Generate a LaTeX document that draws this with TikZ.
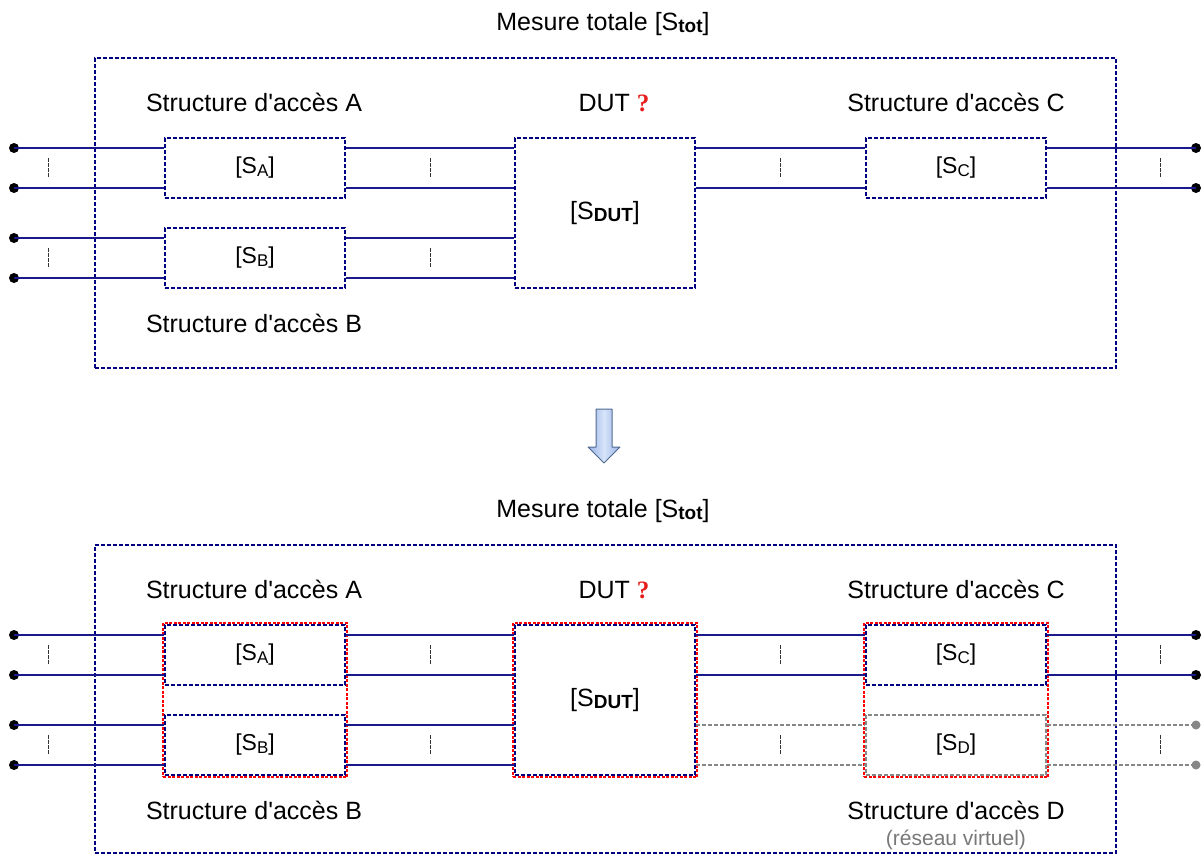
\documentclass[tikz,border=0pt]{standalone}
\usepackage{fontspec}
\setmainfont{Liberation Sans}
\newfontfamily\qfont{Liberation Serif}
\usetikzlibrary{calc}
\definecolor{navy}{RGB}{0,0,128}
\definecolor{wirec}{RGB}{25,25,140}
\definecolor{qred}{RGB}{230,30,30}
\definecolor{grayline}{RGB}{135,135,135}
\definecolor{vgray}{RGB}{120,120,120}
\definecolor{arredge}{RGB}{80,105,145}
\definecolor{arrlight}{RGB}{215,228,250}
\definecolor{arrdark}{RGB}{150,178,228}
\newcommand{\ap}{\textquotesingle}
\newcommand{\sbr}[1]{\raisebox{-2.5pt}{\fontsize{17}{18}\selectfont #1}}
\newcommand{\sbb}[1]{\raisebox{-2.5pt}{\fontsize{19}{19}\selectfont\bfseries #1}}
\newcommand{\qm}{{\qfont\bfseries\color{qred}?}}
\tikzset{
  sbox/.style={draw=navy, line width=2pt, dash pattern=on 4pt off 2pt,
    minimum width=180pt, minimum height=60pt, inner sep=0pt,
    font=\fontsize{23}{27}\selectfont},
  gbox/.style={sbox, draw=grayline},
  rbox/.style={draw=red, line width=1.8pt, dash pattern=on 3pt off 1.5pt,
    minimum width=184pt, minimum height=154pt, inner sep=0pt},
  obox/.style={draw=navy, line width=2pt, dash pattern=on 4pt off 2pt,
    minimum width=1021pt, inner sep=0pt},
  wire/.style={draw=wirec, line width=2.6pt},
  gwire/.style={draw=grayline, line width=2pt, dash pattern=on 4pt off 2pt},
  term/.style={circle, fill=black, inner sep=0pt, minimum size=10pt},
  gterm/.style={circle, fill=grayline, inner sep=0pt, minimum size=9pt},
  tickl/.style={draw=black!80, line width=1pt, dash pattern=on 3.5pt off 1.5pt},
  lbl/.style={font=\fontsize{25}{30}\selectfont, anchor=base, inner sep=0pt},
}
\newcommand{\tk}[2]{\draw[tickl] (#1,#2-10) -- (#1,#2+10);}
\begin{document}
\begin{tikzpicture}[x=1pt,y=-1pt]
\useasboundingbox (0,0) rectangle (1203,855);

% ================= TOP =================
\node[lbl] (title1) at (603,30) {Mesure totale [S\sbb{tot}]};
\node[obox, minimum height=310pt] (tot1) at (605.5,213) {};

\node[sbox] (SA) at (255,168) {[S\sbr{A}]};
\node[sbox] (SB) at (255,258) {[S\sbr{B}]};
\node[sbox, minimum height=150pt, font=\fontsize{25}{30}\selectfont] (DUT) at (605,213) {[S\sbb{DUT}]};
\node[sbox] (SC) at (956,168) {[S\sbr{C}]};

\node[lbl] (lA) at (254,111.5) {Structure d\ap acc\`es A};
\node[lbl] (lD) at (614,111.5) {DUT \qm};
\node[lbl] (lC) at (956,111.5) {Structure d\ap acc\`es C};
\node[lbl] (lB) at (254,332) {Structure d\ap acc\`es B};

\node[term] (a1) at (14,148) {};
\node[term] (a2) at (14,188) {};
\node[term] (b1) at (14,238) {};
\node[term] (b2) at (14,278) {};
\node[term] (c1) at (1196,148) {};
\node[term] (c2) at (1196,188) {};

\foreach \t in {a1,a2}{
  \draw[wire] (\t.center) -- (\t.center -| SA.west);
  \draw[wire] (\t.center -| SA.east) -- (\t.center -| DUT.west);
  \draw[wire] (\t.center -| DUT.east) -- (\t.center -| SC.west);
}
\foreach \t in {b1,b2}{
  \draw[wire] (\t.center) -- (\t.center -| SB.west);
  \draw[wire] (\t.center -| SB.east) -- (\t.center -| DUT.west);
}
\foreach \t in {c1,c2}{
  \draw[wire] (\t.center -| SC.east) -- (\t.center);
}
\tk{48}{168} \tk{48}{258} \tk{430}{168} \tk{430}{258} \tk{780}{168} \tk{1160}{168}

% ================= ARROW =================
\shade[left color=arrdark, right color=arrdark, middle color=arrlight, draw=arredge, line width=1pt, line join=round]
  (596,409) -- (612,409) -- (612,447) -- (620,447) -- (604,463) -- (588,447) -- (596,447) -- cycle;

% ================= BOTTOM =================
\node[lbl] (title2) at (603,517) {Mesure totale [S\sbb{tot}]};
\node[obox, minimum height=308pt] (tot2) at (605.5,699) {};

\node[sbox] (SA2) at (255,655) {[S\sbr{A}]};
\node[sbox] (SB2) at (255,745) {[S\sbr{B}]};
\node[sbox, minimum height=150pt, font=\fontsize{25}{30}\selectfont] (DUT2) at (605,700) {[S\sbb{DUT}]};
\node[sbox] (SC2) at (956,655) {[S\sbr{C}]};
\node[gbox] (SD2) at (956,745) {[S\sbr{D}]};

\node[rbox] (RAB) at (255,700) {};
\node[rbox] (RDUT) at (605,700) {};
\node[rbox] (RCD) at (956,700) {};

\node[lbl] (lA2) at (254,598.5) {Structure d\ap acc\`es A};
\node[lbl] (lD2) at (614,598.5) {DUT \qm};
\node[lbl] (lC2) at (956,598.5) {Structure d\ap acc\`es C};
\node[lbl] (lB2) at (254,819) {Structure d\ap acc\`es B};
\node[lbl] (lDD2) at (956,819) {Structure d\ap acc\`es D};
\node[lbl, font=\fontsize{21}{25}\selectfont, text=vgray] (virt) at (956,845) {(r\'eseau virtuel)};

\node[term] (a3) at (14,635) {};
\node[term] (a4) at (14,675) {};
\node[term] (b3) at (14,725) {};
\node[term] (b4) at (14,765) {};
\node[term] (c3) at (1196,635) {};
\node[term] (c4) at (1196,675) {};
\node[gterm] (d3) at (1196,725) {};
\node[gterm] (d4) at (1196,765) {};

\foreach \t in {a3,a4}{
  \draw[wire] (\t.center) -- (\t.center -| SA2.west);
  \draw[wire] (\t.center -| SA2.east) -- (\t.center -| DUT2.west);
  \draw[wire] (\t.center -| DUT2.east) -- (\t.center -| SC2.west);
}
\foreach \t in {b3,b4}{
  \draw[wire] (\t.center) -- (\t.center -| SB2.west);
  \draw[wire] (\t.center -| SB2.east) -- (\t.center -| DUT2.west);
}
\foreach \t in {c3,c4}{
  \draw[wire] (\t.center -| SC2.east) -- (\t.center);
}
\foreach \t in {d3,d4}{
  \draw[gwire] (\t.center -| DUT2.east) -- (\t.center -| SD2.west);
  \draw[gwire] (\t.center -| SD2.east) -- (\t.center);
}
\tk{48}{655} \tk{48}{745} \tk{430}{655} \tk{430}{745} \tk{780}{655} \tk{780}{745} \tk{1160}{655} \tk{1160}{745}
\end{tikzpicture}
\end{document}
